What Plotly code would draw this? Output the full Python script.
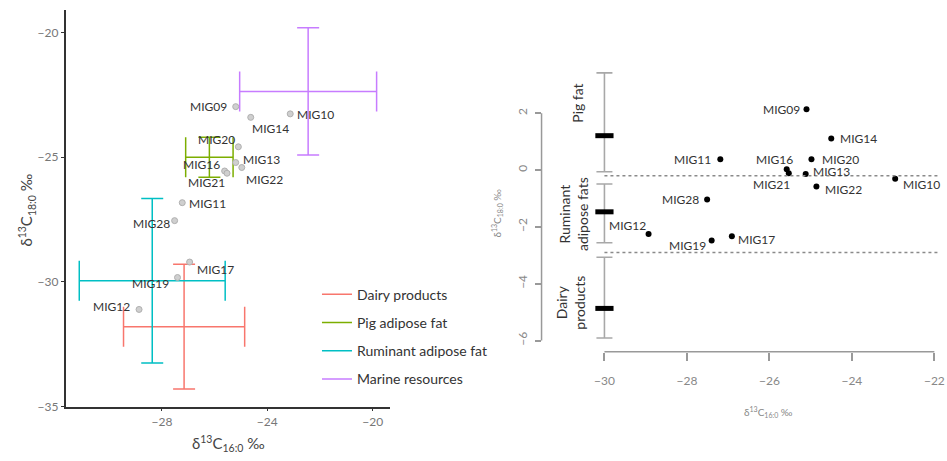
import plotly.graph_objects as go

W, H = 947, 461
FONT = "Lato"

# ---------------- Left panel data ----------------
sample_names = ["MIG09", "MIG10", "MIG11", "MIG12", "MIG13", "MIG14", "MIG16",
                "MIG17", "MIG19", "MIG20", "MIG21", "MIG22", "MIG28"]
d13c_160 = [-25.2, -23.13, -27.23, -28.87, -25.2, -24.63, -25.62,
            -26.95, -27.41, -25.1, -25.53, -24.97, -27.52]
d13c_180 = [-22.97, -23.26, -26.82, -31.1, -25.21, -23.4, -25.55,
            -29.2, -29.82, -24.58, -25.64, -25.41, -27.54]

ref_groups = ["Dairy products", "Pig adipose fat", "Ruminant adipose fat", "Marine resources"]
ref_colors = ["#F8766D", "#7CAE00", "#00BFC4", "#C77CFF"]
ref_mean_160 = [-27.16, -26.2, -28.37, -22.45]
ref_sd_160 = [2.3, 0.9, 2.77, 2.6]
ref_mean_180 = [-31.79, -25.0, -29.95, -22.36]
ref_sd_180 = [2.5, 0.8, 3.3, 2.55]

left_xticks = [-28, -24, -20]
left_yticks = [-35, -30, -25, -20]

# ---------------- Right panel data ----------------
right_x = [-25.1, -22.95, -27.19, -28.93, -25.12, -24.5, -25.58,
           -26.91, -27.4, -24.98, -25.53, -24.86, -27.51]
right_delta = [2.14, -0.31, 0.38, -2.25, -0.14, 1.11, 0.03,
               -2.33, -2.48, 0.38, -0.11, -0.58, -1.04]

range_groups = ["Pig fat", "Ruminant<br>adipose fats", "Dairy<br>products"]
range_x = [-30, -30, -30]
range_mean = [1.21, -1.47, -4.87]
range_upper = [3.42, -0.49, -3.07]
range_lower = [-0.06, -2.56, -5.91]
boundaries = [-0.2, -2.9]

right_xticks = [-30, -28, -26, -24, -22]
right_yticks = [2, 0, -2, -4, -6]

# ---------------- label placement (style only; dy = upward pixel shift) ----------------
left_lab_anchor = ["right", "left", "left", "right", "left", "left", "right",
                   "left", "right", "right", "right", "left", "right"]
left_lab_dx = [-7, 5, 5, -7, 5, -1, -3, 5, -7, -1, 0, 2, -3]
left_lab_dy = [0, -1, -1, 3, 3, -11, 6, -7, -6, 7, -9, -12, -3]

right_lab_anchor = ["right", "left", "right", "right", "left", "left", "right",
                    "left", "right", "left", "right", "left", "right"]
right_lab_dx = [-5, 6, -7, -1, 5, 7, 8, 4, -4, 9, 3, 7, -6]
right_lab_dy = [0, -6, 0, 8, 3, 0, 10, -3, -5, 0, -11, -3, 0]

group_lab_x = [581, 577, 574]   # pixel centres of the rotated group labels
group_lab_y = [105, 217, 307]

fig = go.Figure()

# ---- left: reference crosses ----
for g, c, mx, sx, my, sy in zip(ref_groups, ref_colors, ref_mean_160, ref_sd_160,
                                ref_mean_180, ref_sd_180):
    fig.add_trace(go.Scatter(
        x=[mx], y=[my], mode="markers", marker=dict(size=1, color="rgba(0,0,0,0)"),
        error_x=dict(type="data", array=[sx], color=c, thickness=1.5, width=20),
        error_y=dict(type="data", array=[sy], color=c, thickness=1.5, width=11),
        showlegend=False, hoverinfo="skip", xaxis="x", yaxis="y"))
    fig.add_trace(go.Scatter(
        x=[None], y=[None], mode="lines", line=dict(color=c, width=1.5),
        name=g, legendgroup=g, showlegend=True, xaxis="x", yaxis="y"))

fig.add_trace(go.Scatter(
    x=d13c_160, y=d13c_180, mode="markers",
    marker=dict(size=6, color="#cfcfcf", line=dict(color="#b0b0b0", width=1)),
    showlegend=False, xaxis="x", yaxis="y", cliponaxis=False))

# ---- right: reference ranges ----
fig.add_trace(go.Scatter(
    x=range_x, y=range_mean, mode="markers",
    marker=dict(symbol="line-ew", size=13, color="black",
                line=dict(color="black", width=5)),
    error_y=dict(type="data", symmetric=False,
                 array=[u - m for u, m in zip(range_upper, range_mean)],
                 arrayminus=[m - l for m, l in zip(range_mean, range_lower)],
                 color="#a8a8a8", thickness=1.6, width=8),
    showlegend=False, xaxis="x2", yaxis="y2", cliponaxis=False))

fig.add_trace(go.Scatter(
    x=right_x, y=right_delta, mode="markers",
    marker=dict(size=6, color="black"),
    showlegend=False, xaxis="x2", yaxis="y2", cliponaxis=False))

# dashed boundaries
x2_range = [-31.525, -21.887]
for b in boundaries:
    fig.add_shape(type="line", xref="x2", yref="y2", x0=min(right_xticks), x1=x2_range[1],
                  y0=b, y1=b, line=dict(color="#8a8a8a", width=1.5, dash="dot"))

# right axis lines spanning the tick range (base-graphics style)
x2_dom = [545 / W, 945 / W]
y2_dom = [1 - 357.3 / H, 1 - 60 / H]
fig.add_shape(type="line", xref="x2", yref="paper", x0=min(right_xticks), x1=max(right_xticks),
              y0=y2_dom[0], y1=y2_dom[0], line=dict(color="#999999", width=1.5))
fig.add_shape(type="line", xref="paper", yref="y2", x0=x2_dom[0], x1=x2_dom[0],
              y0=min(right_yticks), y1=max(right_yticks), line=dict(color="#999999", width=1.5))

annotations = []
lab_font = dict(family=FONT, size=12, color="#333333")
for t, x, y, a, dx, dy in zip(sample_names, d13c_160, d13c_180, left_lab_anchor,
                              left_lab_dx, left_lab_dy):
    annotations.append(dict(text=t, x=x, y=y, xref="x", yref="y", showarrow=False,
                            xanchor=a, yanchor="middle", xshift=dx, yshift=dy, font=lab_font))
for t, x, y, a, dx, dy in zip(sample_names, right_x, right_delta, right_lab_anchor,
                              right_lab_dx, right_lab_dy):
    annotations.append(dict(text=t, x=x, y=y, xref="x2", yref="y2", showarrow=False,
                            xanchor=a, yanchor="middle", xshift=dx, yshift=dy, font=lab_font))

for t, px, py in zip(range_groups, group_lab_x, group_lab_y):
    annotations.append(dict(text=t, x=px / W, y=1 - py / H, xref="paper", yref="paper",
                            showarrow=False, textangle=-90,
                            font=dict(family=FONT, size=14, color="#333333"),
                            xanchor="center", yanchor="middle"))

# axis titles
annotations += [
    dict(text="δ<sup>13</sup>C<sub>16:0</sub> ‰", x=230 / W, y=1 - 450 / H, xref="paper", yref="paper",
         xanchor="center", yanchor="middle",
         showarrow=False, font=dict(family=FONT, size=15, color="#444444")),
    dict(text="δ<sup>13</sup>C<sub>18:0</sub> ‰", x=27 / W, y=1 - 213 / H, xref="paper", yref="paper",
         xanchor="center", yanchor="middle",
         showarrow=False, textangle=-90, font=dict(family=FONT, size=15, color="#444444")),
    dict(text="δ<sup>13</sup>C<sub>16:0</sub> ‰", x=773 / W, y=1 - 418 / H, xref="paper", yref="paper",
         xanchor="center", yanchor="middle",
         showarrow=False, font=dict(family=FONT, size=10, color="#888888")),
    dict(text="δ<sup>13</sup>C<sub>18:0</sub> ‰", x=500 / W, y=1 - 216 / H, xref="paper", yref="paper",
         xanchor="center", yanchor="middle",
         showarrow=False, textangle=-90, font=dict(family=FONT, size=10, color="#888888")),
]

fig.update_layout(
    width=W, height=H, margin=dict(l=0, r=0, t=0, b=0),
    paper_bgcolor="white", plot_bgcolor="white",
    font=dict(family=FONT),
    showlegend=True,
    legend=dict(x=319 / W, y=1 - 283 / H, xanchor="left", yanchor="top",
                bgcolor="rgba(0,0,0,0)", font=dict(family=FONT, size=14, color="#333333"),
                tracegroupgap=7),
    xaxis=dict(domain=[66 / W, 392 / W], range=[-31.66, -19.36], tickvals=left_xticks,
               showline=True, linecolor="#333333", linewidth=1.5, ticks="outside", ticklen=3,
               tickcolor="#333333", tickfont=dict(family=FONT, size=12, color="#777777"),
               showgrid=False, zeroline=False, anchor="y"),
    yaxis=dict(domain=[1 - 413 / H, 1 - 10 / H], range=[-35, -19.09], tickvals=left_yticks,
               showline=True, linecolor="#333333", linewidth=1.5, ticks="outside", ticklen=3,
               tickcolor="#333333", tickfont=dict(family=FONT, size=12, color="#777777"),
               showgrid=False, zeroline=False, anchor="x"),
    xaxis2=dict(domain=x2_dom, range=x2_range, tickvals=right_xticks,
                showline=False, ticks="outside", ticklen=8, tickwidth=1.5, tickcolor="#999999",
                tickfont=dict(family=FONT, size=12, color="#888888"), ticklabelstandoff=10,
                ticklabeloverflow="allow",
                showgrid=False, zeroline=False, anchor="y2"),
    yaxis2=dict(domain=y2_dom, range=[-6.40, 3.906], tickvals=right_yticks, tickangle=-90,
                showline=False, ticks="outside", ticklen=6, tickwidth=1.5, tickcolor="#999999",
                tickfont=dict(family=FONT, size=12, color="#888888"), ticklabelstandoff=3,
                ticklabeloverflow="allow",
                showgrid=False, zeroline=False, anchor="x2"),
    annotations=annotations,
)

fig.write_html("out.html", config={"displayModeBar": False},
               post_script="document.body.style.margin='0px';")
